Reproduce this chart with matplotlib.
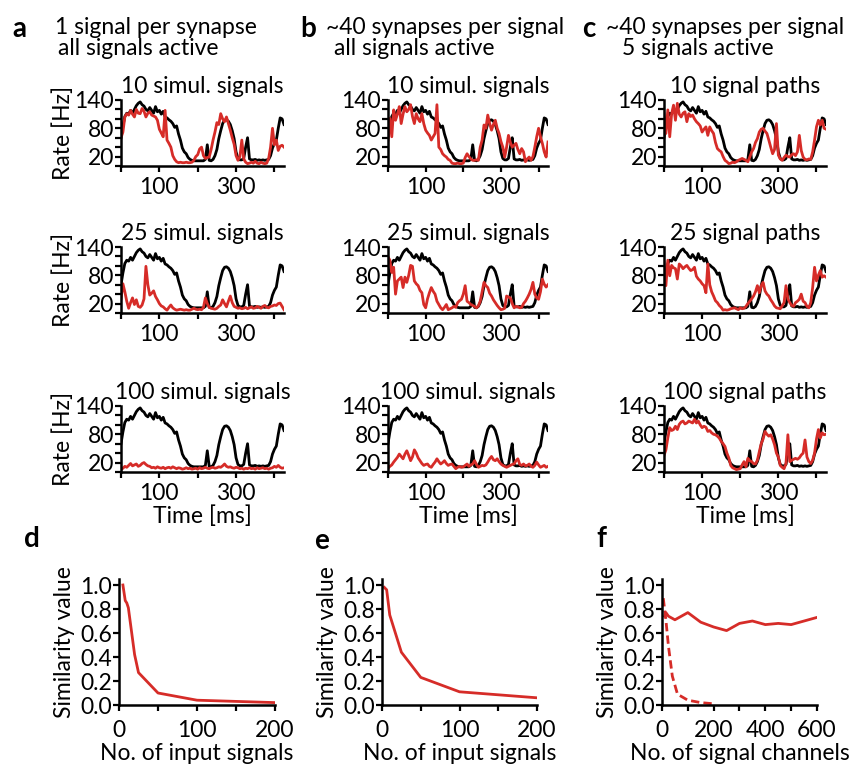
import numpy as np
import matplotlib.pyplot as plt

plt.rcParams['font.family'] = ['Lato', 'DejaVu Sans']

RED = '#d62c28'

# time axis (ms), 5 ms bins
t = np.arange(0, 430, 5)

target = [60, 85, 105, 112, 110, 118, 112, 120, 128, 133, 136, 130, 127, 120, 117, 124, 118, 112, 126, 115,
          118, 110, 116, 104, 102, 98, 95, 90, 82, 85, 68, 55, 38, 30, 26, 18, 14, 12, 11, 11,
          11, 11, 11, 11, 14, 45, 12, 11, 14, 22, 35, 58, 75, 90, 97, 98, 95, 88, 75, 58,
          30, 16, 13, 13, 16, 40, 60, 15, 13, 13, 14, 12, 13, 12, 13, 12, 13, 14, 22, 38,
          48, 55, 80, 102, 100, 88]

out_a10 = [60, 72, 104, 111, 108, 118, 110, 104, 120, 112, 111, 122, 116, 104, 112, 115, 108, 106, 104, 97,
           78, 70, 62, 118, 55, 48, 40, 22, 14, 9, 7, 8, 7, 7, 8, 7, 7, 8, 12, 20,
           24, 36, 40, 22, 16, 18, 19, 35, 55, 72, 92, 88, 111, 100, 94, 104, 90, 76, 60, 46,
           22, 12, 20, 55, 15, 8, 5, 6, 8, 6, 10, 6, 5, 8, 6, 5, 6, 16, 40, 80,
           45, 55, 33, 42, 44, 40]
out_a25 = [30, 62, 45, 25, 10, 22, 32, 18, 28, 14, 12, 17, 30, 99, 60, 38, 42, 47, 35, 28,
           20, 15, 13, 9, 6, 12, 17, 11, 8, 6, 7, 8, 7, 6, 7, 6, 6, 8, 10, 8,
           7, 8, 7, 12, 32, 20, 12, 10, 9, 8, 10, 14, 17, 28, 20, 13, 25, 36, 22, 14,
           12, 10, 11, 9, 10, 12, 9, 11, 13, 10, 11, 14, 12, 10, 14, 16, 12, 11, 14, 15,
           17, 16, 20, 21, 14, 7]
out_a100 = [5, 8, 12, 10, 14, 18, 13, 15, 17, 12, 14, 18, 20, 16, 13, 12, 9, 10, 8, 11,
            9, 8, 10, 7, 9, 10, 8, 11, 9, 7, 9, 8, 6, 7, 9, 7, 8, 6, 7, 8,
            6, 9, 7, 8, 10, 8, 7, 9, 10, 8, 9, 11, 10, 13, 17, 12, 10, 11, 9, 8,
            10, 9, 7, 8, 6, 8, 7, 9, 7, 8, 6, 9, 7, 8, 9, 7, 8, 6, 8, 9,
            12, 10, 14, 10, 8, 9]
out_b10 = [55, 101, 62, 119, 97, 110, 126, 90, 110, 126, 115, 120, 130, 105, 90, 111, 100, 94, 111, 90,
           76, 70, 65, 55, 62, 69, 130, 40, 35, 26, 22, 19, 14, 12, 6, 5, 5, 6, 5, 5,
           6, 18, 26, 20, 15, 12, 12, 13, 12, 40, 55, 87, 80, 108, 90, 76, 88, 97, 80, 69,
           52, 40, 19, 40, 65, 50, 40, 44, 48, 35, 26, 37, 30, 9, 15, 19, 12, 20, 40, 62,
           80, 62, 48, 30, 19, 51]
out_b25 = [119, 112, 86, 97, 40, 68, 72, 76, 54, 76, 65, 80, 101, 99, 68, 62, 58, 48, 43, 18,
           11, 30, 43, 54, 46, 40, 25, 18, 11, 7, 12, 18, 7, 9, 11, 14, 12, 22, 26, 29,
           40, 58, 25, 22, 18, 16, 14, 11, 15, 25, 45, 65, 58, 54, 42, 36, 28, 22, 16, 11,
           7, 8, 10, 36, 34, 32, 20, 11, 14, 13, 11, 12, 20, 25, 32, 40, 50, 65, 40, 32,
           29, 45, 72, 61, 55, 60]
out_b100 = [8, 12, 15, 21, 26, 31, 38, 33, 28, 38, 45, 35, 24, 32, 47, 40, 30, 24, 18, 14,
            16, 17, 12, 10, 16, 21, 28, 22, 17, 20, 24, 18, 14, 16, 17, 12, 7, 10, 12, 10,
            11, 14, 17, 12, 15, 17, 24, 16, 10, 12, 14, 13, 15, 21, 28, 33, 26, 24, 28, 22,
            17, 14, 12, 10, 12, 14, 16, 17, 24, 28, 16, 14, 17, 13, 14, 17, 12, 10, 14, 21,
            15, 10, 12, 14, 10, 12]
out_c10 = [111, 69, 119, 62, 111, 129, 97, 133, 110, 104, 112, 115, 94, 111, 105, 108, 100, 94, 90, 85,
           72, 78, 83, 65, 83, 75, 69, 50, 37, 33, 30, 20, 12, 9, 5, 6, 8, 7, 9, 12,
           14, 16, 14, 12, 9, 19, 30, 37, 50, 58, 72, 78, 80, 74, 69, 55, 40, 26, 35, 90,
           23, 15, 12, 18, 23, 20, 19, 24, 26, 22, 30, 65, 33, 19, 14, 13, 15, 14, 30, 55,
           83, 97, 87, 97, 80, 78]
out_c25 = [108, 58, 112, 79, 101, 96, 94, 72, 104, 100, 94, 98, 101, 95, 90, 92, 97, 78, 72, 68,
           62, 58, 43, 104, 60, 45, 36, 26, 22, 16, 12, 6, 7, 6, 7, 9, 10, 11, 9, 7,
           11, 9, 10, 14, 20, 25, 30, 36, 45, 58, 43, 58, 65, 47, 40, 36, 28, 22, 15, 11,
           10, 9, 15, 22, 58, 30, 22, 16, 14, 22, 25, 29, 40, 25, 22, 14, 11, 22, 54, 97,
           68, 80, 90, 76, 79, 76]
out_c100 = [35, 47, 72, 94, 88, 90, 97, 90, 101, 106, 108, 102, 104, 108, 106, 104, 112, 104, 108, 100,
            94, 97, 95, 86, 88, 83, 80, 79, 76, 72, 65, 60, 54, 40, 30, 14, 9, 7, 5, 6,
            7, 15, 22, 11, 29, 24, 22, 18, 17, 25, 43, 60, 70, 86, 80, 76, 79, 70, 58, 40,
            32, 14, 10, 7, 18, 79, 22, 25, 27, 29, 27, 30, 36, 40, 68, 32, 22, 18, 25, 40,
            70, 90, 72, 83, 79, 80]

titles_a = ['10 simul. signals', '25 simul. signals', '100 simul. signals']
titles_b = ['10 simul. signals', '25 simul. signals', '100 simul. signals']
titles_c = ['10 signal paths', '25 signal paths', '100 signal paths']

# similarity summaries
n_d = [5, 8, 10, 12, 20, 25, 50, 100, 200]
sim_d = [1.0, 0.87, 0.85, 0.81, 0.42, 0.27, 0.10, 0.04, 0.02]
n_e = [3, 6, 10, 25, 50, 100, 200]
sim_e = [0.98, 0.96, 0.75, 0.44, 0.23, 0.11, 0.06]
n_f = [10, 15, 25, 50, 100, 150, 200, 250, 300, 350, 400, 450, 500, 550, 600]
sim_f = [0.74, 0.77, 0.74, 0.71, 0.77, 0.69, 0.65, 0.62, 0.68, 0.70, 0.67, 0.68, 0.67, 0.70, 0.73]
n_f2 = [5, 15, 25, 40, 60, 100, 150, 200]
sim_f2 = [0.89, 0.71, 0.49, 0.24, 0.09, 0.04, 0.02, 0.01]

W, H = 853, 765
FS = 16.5

fig = plt.figure(figsize=(W / 100, H / 100), dpi=100)


def add_ax(left, top, width, height):
    return fig.add_axes([left / W, 1 - (top + height) / H, width / W, height / H])


def style(ax, xpad):
    for s in ['top', 'right']:
        ax.spines[s].set_visible(False)
    for s in ['left', 'bottom']:
        ax.spines[s].set_linewidth(1.8)
    ax.tick_params(direction='out', length=4, width=1.6, labelsize=FS, pad=1)
    ax.tick_params(axis='x', pad=xpad)


cols = [(121, 163, titles_a, [out_a10, out_a25, out_a100]),
        (388, 160, titles_b, [out_b10, out_b25, out_b100]),
        (664, 162, titles_c, [out_c10, out_c25, out_c100])]
tops = [100, 247, 406]

for ci, (left, width, titles, outs) in enumerate(cols):
    for ri, top in enumerate(tops):
        ax = add_ax(left, top, width, 66)
        ax.plot(t, target, color='black', lw=2.0)
        ax.plot(t, outs[ri], color=RED, lw=2.0)
        ax.set_xlim(0, 425)
        ax.set_ylim(0, 140)
        ax.set_yticks(range(0, 141, 20))
        ax.set_yticklabels(['', '20', '', '', '80', '', '', '140'])
        ax.set_xticks([0, 100, 200, 300, 400])
        ax.set_xticklabels(['', '100', '', '300', ''])
        style(ax, 4)
        ax.set_title(titles[ri], fontsize=FS, pad=5)
        if ci == 0:
            ax.set_ylabel('Rate [Hz]', fontsize=FS, labelpad=0)
        if ri == 2:
            ax.set_xlabel('Time [ms]', fontsize=FS, labelpad=1)

bottom = [(119, 156, n_d, sim_d, 200, 'No. of input signals'),
          (382, 155, n_e, sim_e, 200, 'No. of input signals'),
          (662, 155, n_f, sim_f, 600, 'No. of signal channels')]
for i, (left, width, n, s, xmax, xl) in enumerate(bottom):
    ax = add_ax(left, 579, width, 126)
    ax.plot(n, s, color=RED, lw=2.0)
    if i == 2:
        ax.plot(n_f2, sim_f2, color=RED, lw=2.0, ls=(0, (3, 1.5)))
        ax.set_xticks(range(0, 601, 100))
        ax.set_xticklabels(['0', '', '200', '', '400', '', '600'])
    else:
        ax.set_xticks(range(0, 201, 50))
        ax.set_xticklabels(['0', '', '100', '', '200'])
    ax.set_xlim(0, xmax)
    ax.set_ylim(0, 1.05)
    ax.set_yticks([0, 0.2, 0.4, 0.6, 0.8, 1.0])
    ax.set_yticklabels(['0.0', '0.2', '0.4', '0.6', '0.8', '1.0'])
    style(ax, 7)
    ax.set_ylabel('Similarity value', fontsize=FS, labelpad=4)
    ax.set_xlabel(xl, fontsize=FS, labelpad=1)

# panel letters and headers
for x, y, letter in [(12, 37, 'a'), (300, 37, 'b'), (582, 37, 'c'),
                     (24, 547, 'd'), (314, 549, 'e'), (596, 547, 'f')]:
    fig.text(x / W, 1 - y / H, letter, fontsize=20, fontweight='bold')

headers = [(55, '1 signal per synapse', 58, 'all signals active'),
           (326, '~40 synapses per signal', 334, 'all signals active'),
           (606, '~40 synapses per signal', 622, '5 signals active')]
for x1, l1, x2, l2 in headers:
    fig.text(x1 / W, 1 - 34 / H, l1, fontsize=FS)
    fig.text(x2 / W, 1 - 55 / H, l2, fontsize=FS)

fig.savefig('out.png', dpi=100)
